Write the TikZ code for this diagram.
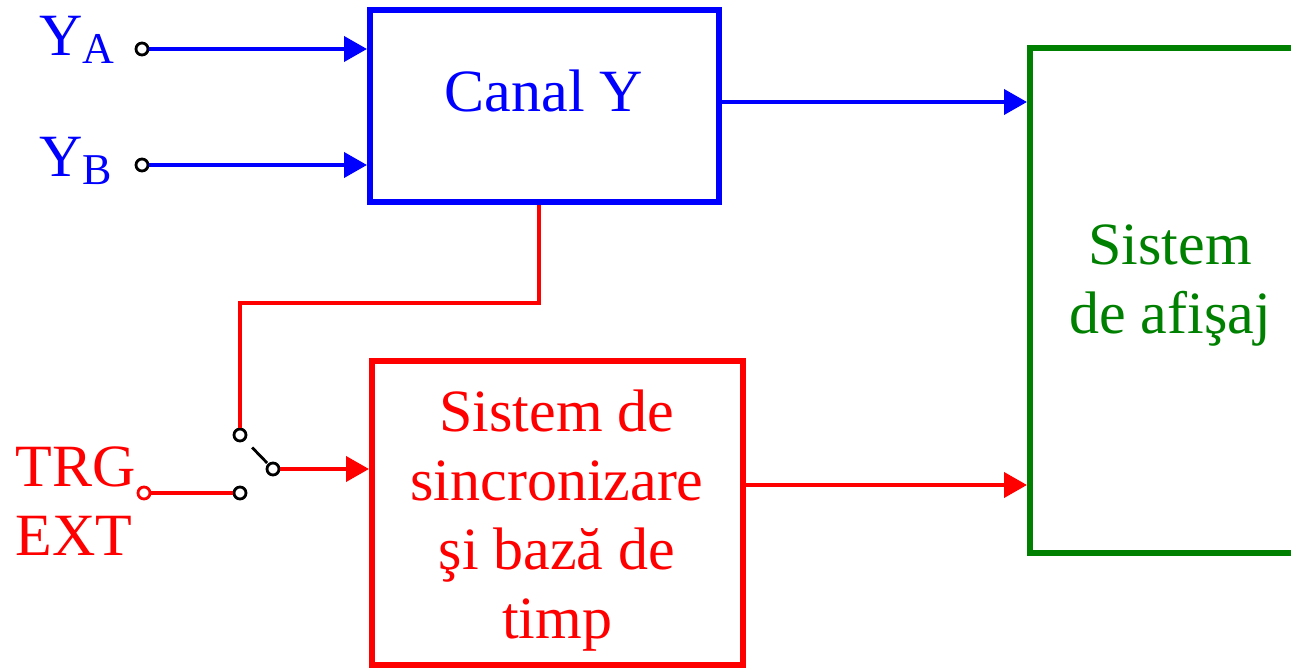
\documentclass[tikz,border=0pt]{standalone}
\usepackage{fontspec}
\setmainfont{Liberation Serif}
\usetikzlibrary{arrows.meta}

\definecolor{chanblue}{RGB}{0,0,255}
\definecolor{syncred}{RGB}{255,0,0}
\definecolor{dispgreen}{RGB}{0,128,0}

\tikzset{
  block/.style={draw, line width=3pt, inner sep=0pt},
  wire/.style={line width=2pt},
  signal/.style={wire, -{Triangle[length=11.5pt,width=12.5pt]}},
  jack/.style={circle, draw=black, fill=white, line width=1.4pt, minimum size=6pt, inner sep=0pt},
  bigtext/.style={inner sep=0pt, font=\fontsize{30}{34.5}\selectfont, align=center},
  subtext/.style={font=\fontsize{22}{22}\selectfont}
}

\begin{document}
\begin{tikzpicture}[x=0.5pt, y=-0.5pt]

	% Frame
	\useasboundingbox (0,0) rectangle (1291,669);
	\clip (0,0) rectangle (1291,669);

	% Blocks
	\node[block, draw=chanblue, minimum width=174.5pt, minimum height=96pt] (canal) at (544.5,106) {};
	\node[block, draw=syncred, minimum width=185.5pt, minimum height=152pt] (sync) at (557.5,513) {};
	\node[block, draw=dispgreen, minimum width=155pt, minimum height=252.5pt] (disp) at (1185,300.5) {};

	% Block texts (base = last line)
	\node[bigtext, text=chanblue, anchor=base] (canaltxt) at (544,111) {Canal Y};
	\node[bigtext, text=syncred, anchor=base] (synctxt) at (557,638) {Sistem de\\sincronizare\\şi bază de\\timp};
	\node[bigtext, text=dispgreen, anchor=base] (disptxt) at (1170,333) {Sistem\\de afişaj};

	% Inputs
	\node[jack] (ya) at (142,49) {};
	\node[jack] (yb) at (142,165) {};
	\node[jack, draw=syncred] (trg) at (144,493) {};
	\node[bigtext, text=chanblue, anchor=base west] (yalbl) at (39,55) {Y\raisebox{-4pt}{\fontsize{22}{22}\selectfont A}};
	\node[bigtext, text=chanblue, anchor=base west] (yblbl) at (39,176) {Y\raisebox{-4pt}{\fontsize{22}{22}\selectfont B}};
	\node[bigtext, text=syncred, anchor=base west] (trglbl) at (15,486) {TRG};
	\node[bigtext, text=syncred, anchor=base west] (extlbl) at (15,555) {EXT};

	% Switch
	\node[jack] (swa) at (240,435) {};
	\node[jack] (swb) at (240,493) {};
	\node[jack] (swc) at (273,469) {};
	\draw[line width=1.4pt, shorten <=5pt, shorten >=0.5pt] (swa) -- (swc);

	% Y channel
	\draw[signal, chanblue] (ya) -- (ya -| canal.west);
	\draw[signal, chanblue] (yb) -- (yb -| canal.west);
	\draw[signal, chanblue] ([yshift=2pt]canal.east) coordinate (cy) -- (cy -| disp.west);

	% Trigger
	\coordinate (bend) at (240,303);
	\draw[wire, syncred] ([xshift=-2.75pt]canal.south) |- (bend) -- (swa);
	\draw[wire, syncred] (trg) -- (swb);
	\draw[signal, syncred] (swc) -- (swc -| sync.west);
	\draw[signal, syncred] ([yshift=14pt]sync.east) coordinate (so) -- (so -| disp.west);

\end{tikzpicture}
\end{document}
